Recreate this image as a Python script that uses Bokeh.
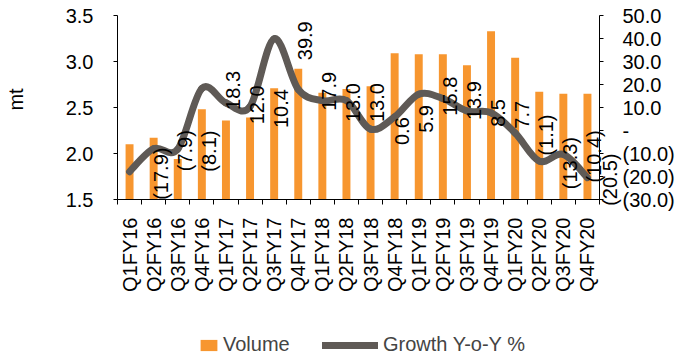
import math
from bokeh.plotting import figure
from bokeh.models import (Range1d, LinearAxis, FixedTicker, NumeralTickFormatter,
                          Legend, LegendItem, ColumnDataSource, LabelSet, Label)
from bokeh.core.properties import value
from bokeh.embed import file_html
from bokeh.resources import INLINE

quarters = ["Q1FY16", "Q2FY16", "Q3FY16", "Q4FY16", "Q1FY17", "Q2FY17", "Q3FY17", "Q4FY17",
            "Q1FY18", "Q2FY18", "Q3FY18", "Q4FY18", "Q1FY19", "Q2FY19", "Q3FY19", "Q4FY19",
            "Q1FY20", "Q2FY20", "Q3FY20", "Q4FY20"]
volume = [2.10, 2.17, 1.94, 2.48, 2.36, 2.39, 2.71, 2.92, 2.66, 2.70,
          2.73, 3.09, 3.08, 3.08, 2.96, 3.33, 3.04, 2.67, 2.65, 2.65]
growth = [-17.9, -7.9, -8.1, 18.3, 12.0, 10.4, 39.9, 17.9, 13.0, 13.0,
          0.6, 5.9, 15.8, 13.9, 8.5, 7.7, -1.1, -13.3, -10.4, -20.5]
vol_ticks = [1.5, 2.0, 2.5, 3.0, 3.5]
growth_ticks = [-30, -20, -10, 0, 10, 20, 30, 40, 50]

FONT = "Liberation Sans"
FS = "20px"
BAR = "#F7962F"
LINE = "#5F5A56"

W, H = 678, 358
PLOT_LEFT, PLOT_RIGHT = 117, 599   # pixel columns of the two value axes
PLOT_TOP, PLOT_BOTTOM = 15, 199    # pixel rows of the axis extremes

n = len(quarters)
xs = [i + 0.5 for i in range(n)]


def fmt(v):
    if v == 0:
        return "-"
    return f"({abs(v):.1f})" if v < 0 else f"{v:.1f}"


def padded(lo, hi):
    per_px = (hi - lo) / (PLOT_BOTTOM - PLOT_TOP)
    return Range1d(lo - (H - PLOT_BOTTOM) * per_px, hi + PLOT_TOP * per_px)


x_per_px = n / (PLOT_RIGHT - PLOT_LEFT)
p = figure(width=W, height=H, output_backend="svg", toolbar_location=None,
           x_range=Range1d(-PLOT_LEFT * x_per_px, n + (W - PLOT_RIGHT) * x_per_px),
           y_range=padded(vol_ticks[0], vol_ticks[-1]),
           min_border_left=0, min_border_right=0, min_border_top=0, min_border_bottom=0)
p.outline_line_color = None
p.xgrid.visible = False
p.ygrid.visible = False
p.extra_y_ranges = {"growth": padded(growth_ticks[0], growth_ticks[-1])}

# bottom axis, pinned at the volume baseline
xa = p.xaxis[0]
xa.fixed_location = vol_ticks[0]
xa.bounds = (0, n)
xa.ticker = FixedTicker(ticks=xs, minor_ticks=list(range(n + 1)))
xa.major_label_overrides = {x: q for x, q in zip(xs, quarters)}
xa.major_label_orientation = math.pi / 2
xa.major_tick_in = 0
xa.major_tick_out = 0
xa.minor_tick_in = 0
xa.minor_tick_out = 5
xa.minor_tick_line_color = "black"
xa.major_label_standoff = 13
xa.axis_line_color = "black"
xa.major_label_text_font = FONT
xa.major_label_text_font_size = FS
xa.major_label_text_color = "black"

# left axis, pinned before the first category
ya = p.yaxis[0]
ya.fixed_location = 0
ya.bounds = (vol_ticks[0], vol_ticks[-1])
ya.ticker = FixedTicker(ticks=vol_ticks)
ya.formatter = NumeralTickFormatter(format="0.0")
ya.minor_tick_line_color = None
ya.major_tick_in = 0
ya.major_tick_out = 4
ya.major_label_standoff = 20
ya.major_label_text_font = FONT
ya.major_label_text_font_size = FS
ya.major_label_text_color = "black"
ya.axis_line_color = "black"

# axis title for the volume axis
p.add_layout(Label(x=15, y=H - 99, x_units="screen", y_units="screen", text="mt",
                   angle=math.pi / 2, text_align="center", text_baseline="middle",
                   text_font=FONT, text_font_size=FS, text_color="black"))

# right axis, pinned just after the last category
ra = LinearAxis(y_range_name="growth", ticker=FixedTicker(ticks=growth_ticks),
                fixed_location=n, bounds=(growth_ticks[0], growth_ticks[-1]))
ra.major_label_overrides = {t: fmt(t) for t in growth_ticks}
ra.minor_tick_line_color = None
ra.major_tick_in = 0
ra.major_tick_out = 4
ra.major_label_standoff = 19
ra.major_label_text_font = FONT
ra.major_label_text_font_size = FS
ra.major_label_text_color = "black"
ra.axis_line_color = "black"
p.add_layout(ra, "right")

# bars
bars = p.vbar(x=xs, top=volume, bottom=vol_ticks[0], width=0.33,
              fill_color=BAR, line_color=None)

# smoothed growth line (Catmull-Rom -> cubic Bezier control points)
x0, y0, x1, y1, cx0, cy0, cx1, cy1 = [], [], [], [], [], [], [], []
for i in range(n - 1):
    pm = (xs[i - 1], growth[i - 1]) if i > 0 else (xs[i], growth[i])
    pa = (xs[i], growth[i])
    pb = (xs[i + 1], growth[i + 1])
    pn = (xs[i + 2], growth[i + 2]) if i + 2 < n else pb
    x0.append(pa[0]); y0.append(pa[1]); x1.append(pb[0]); y1.append(pb[1])
    cx0.append(pa[0] + (pb[0] - pm[0]) / 6); cy0.append(pa[1] + (pb[1] - pm[1]) / 6)
    cx1.append(pb[0] - (pn[0] - pa[0]) / 6); cy1.append(pb[1] - (pn[1] - pa[1]) / 6)
p.bezier(x0=x0, y0=y0, x1=x1, y1=y1, cx0=cx0, cy0=cy0, cx1=cx1, cy1=cy1,
         y_range_name="growth", line_color=LINE, line_width=7, line_cap="round")

# data labels (last one sits a little closer, between the line end and the right axis)
label_dx = [31] * (n - 1) + [23]
src = ColumnDataSource(dict(x=xs, y=growth, t=[fmt(g) for g in growth], dx=label_dx))
labels = LabelSet(x="x", y="y", text="t", source=src, y_range_name="growth",
                  angle=math.pi / 2, x_offset="dx", y_offset=-2,
                  text_align="center", text_baseline="middle",
                  text_font=value(FONT), text_font_size=FS, text_color="black")
p.add_layout(labels)

# legend swatch for the line (a proxy outside the visible x range)
line_proxy = p.line(x=[-60, -50], y=[1, 1], line_color=LINE, line_width=7, line_cap="round")

leg1 = Legend(items=[LegendItem(label="Volume", renderers=[bars])],
              location=(198, 2), glyph_width=21, glyph_height=14, label_height=14,
              label_standoff=4, padding=0, margin=0, border_line_color=None,
              background_fill_alpha=0, label_text_font=FONT, label_text_font_size=FS)
leg2 = Legend(items=[LegendItem(label="Growth Y-o-Y %", renderers=[line_proxy])],
              location=(322, 2), glyph_width=56, glyph_height=14, label_height=14,
              label_standoff=5, padding=0, margin=0, border_line_color=None,
              background_fill_alpha=0, label_text_font=FONT, label_text_font_size=FS)
p.add_layout(leg1)
p.add_layout(leg2)

open("out.html", "w").write(file_html(p, INLINE))
